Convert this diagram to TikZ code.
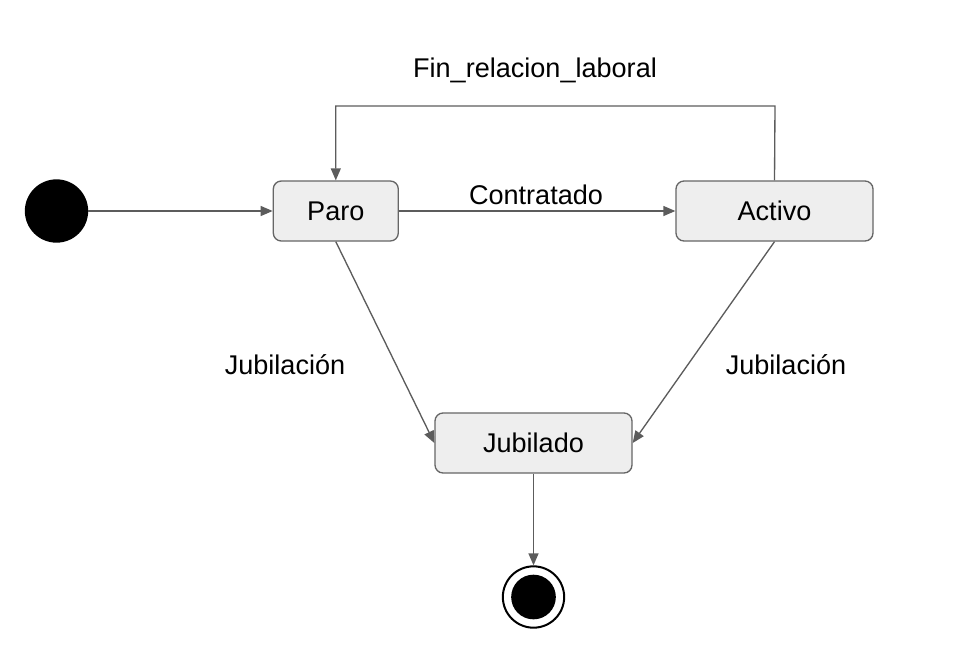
\documentclass[tikz,border=0pt]{standalone}
\usepackage{fontspec}
\setmainfont{Liberation Sans}
\usepackage{xcolor}
\usetikzlibrary{arrows.meta}

\definecolor{edgegray}{HTML}{5C5C5C}
\definecolor{boxgray}{HTML}{EEEEEE}
\definecolor{boxline}{HTML}{666666}

\begin{document}
\begin{tikzpicture}[x=0.75pt, y=-0.75pt,
    font=\fontsize{20.3}{24}\selectfont,
    state/.style={draw=boxline, fill=boxgray, line width=1pt, rounded corners=6pt,
        minimum height=45pt, inner sep=0pt},
    trans/.style={draw=edgegray, line width=1pt, -{Triangle[length=9pt, width=7.5pt]}}]
    \useasboundingbox (0,0) rectangle (956,662);

    % Start and end states
    \node[circle, fill=black, minimum size=47.5pt, inner sep=0pt] (start) at (56.5,211) {};
    \node[circle, draw=black, line width=1.5pt, fill=white, minimum size=46pt, inner sep=0pt] (stop) at (533.5,597) {};
    \node[circle, fill=black, minimum size=33.5pt, inner sep=0pt] at (stop) {};

    % States
    \node[state, minimum width=93.75pt] (paro) at (335.8,211) {Paro};
    \node[state, minimum width=147.75pt] (activo) at (774.5,211) {Activo};
    \node[state, minimum width=147.75pt] (jubilado) at (533.5,443) {Jubilado};

    % Transitions
    \draw[trans] (start) -- (paro);
    \draw[trans] (paro) -- (activo);
    \node (contratado) at (536,195) {Contratado};

    % Loop back over the top
    \coordinate (loopR) at (775,106);
    \draw[trans] (activo.north) -- (loopR) -| (paro.north);
    \node (fin) at (535,70) {Fin\_relacion\_laboral};

    % Both go to Jubilado
    \draw[trans] (paro.south) -- (jubilado.west);
    \draw[trans] (activo.south) -- (jubilado.east);
    \node (jubP) at (285,365) {Jubilación};
    \node (jubA) at (786,365) {Jubilación};

    \draw[trans] (jubilado) -- (stop);
\end{tikzpicture}
\end{document}
